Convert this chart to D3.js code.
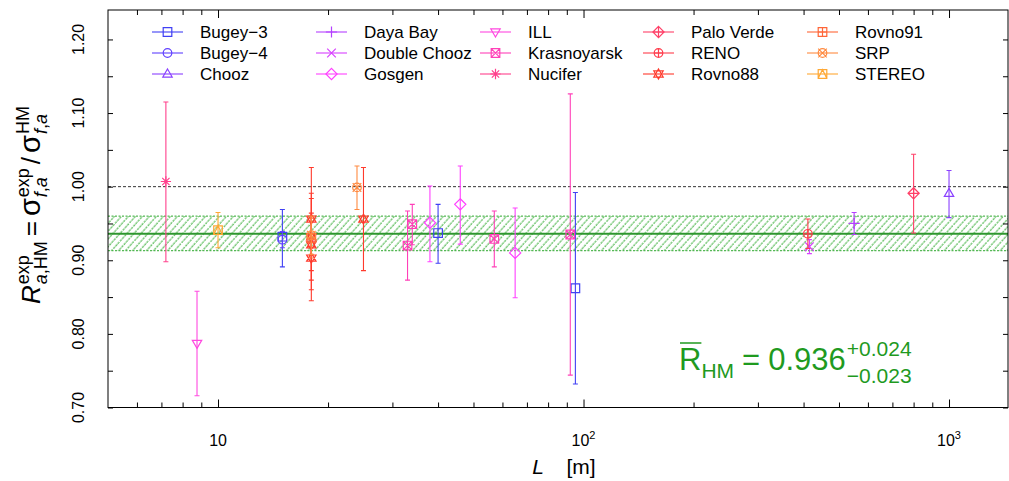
<!DOCTYPE html>
<html><head><meta charset="utf-8">
<script src="https://cdn.jsdelivr.net/npm/d3@7"></script>
<style>
body{margin:0;background:#fff}
svg{display:block}
text{font-family:"Liberation Sans",Arial,Helvetica,sans-serif}
</style>
</head><body>
<svg id="chart" width="1009" height="481"></svg>
<script>
// ---------------- data ----------------
const experiments = ["Bugey-3","Bugey-4","Chooz","Daya Bay","Double Chooz","Gosgen","ILL","Krasnoyarsk","Nucifer","Palo Verde","RENO","Rovno88","Rovno91","SRP","STEREO"];
const legendLabels = ["Bugey−3","Bugey−4","Chooz","Daya Bay","Double Chooz","Gosgen","ILL","Krasnoyarsk","Nucifer","Palo Verde","RENO","Rovno88","Rovno91","SRP","STEREO"];
const expColors = ["#4040f4","#6040ff","#8a40ff","#b440ff","#d840ff","#ff40ff","#ff48e0","#ff40b8","#ff408c","#ff4068","#ff3c4c","#ff3a2c","#ff6638","#ff8a40","#ffa834"];
const expSymbols = ["square","circle","triUp","plus","cross","diamond","triDown","squareX","asterisk","diamondPlus","circlePlus","star6","squarePlus","circleX","squareTri"];

// measurements: experiment, baseline L [m], ratio, lower, upper
const measExp = ["Bugey-3","Bugey-3","Bugey-3","Bugey-4","Chooz","Daya Bay","Double Chooz","Gosgen","Gosgen","Gosgen","ILL","Krasnoyarsk","Krasnoyarsk","Krasnoyarsk","Krasnoyarsk","Nucifer","Palo Verde","RENO","Rovno88","Rovno88","Rovno88","Rovno88","Rovno88","Rovno91","SRP","SRP","STEREO"];
const measL   = [15, 40, 95, 15, 1000, 550, 415, 38, 46, 65, 8.76, 33, 34, 57, 92, 7.2, 800, 411, 18, 18, 18, 18, 25, 18, 18, 24, 10];
const measR   = [0.932,0.937,0.862,0.928,0.991,0.950,0.9185,0.951,0.976,0.910,0.787,0.920,0.949,0.929,0.935,1.007,0.991,0.936,0.956,0.932,0.921,0.903,0.956,0.930,0.934,0.999,0.941];
const measLo  = [0.891,0.896,0.732,0.917,0.958,0.935,0.909,0.898,0.922,0.849,0.716,0.873,0.921,0.891,0.744,0.898,0.937,0.916,0.886,0.873,0.860,0.845,0.886,0.903,0.908,0.969,0.917];
const measHi  = [0.969,0.976,0.992,0.939,1.022,0.965,0.928,1.001,1.028,0.971,0.858,0.967,0.976,0.967,1.126,1.115,1.044,0.956,1.026,0.991,0.984,0.964,1.026,0.957,0.960,1.028,0.965];

const meanR = 0.936, meanPlus = 0.024, meanMinus = 0.023;
const yTickValues = [0.70,0.80,0.90,1.00,1.10,1.20];
const yMinorValues = [0.75,0.85,0.95,1.05,1.15];
const xMajorValues = [10,100,1000];
const xMajorLabels = [["10",""],["10","2"],["10","3"]];
const xMinorValues = [6,7,8,9,20,30,40,50,60,70,80,90,200,300,400,500,600,700,800,900];

// ---------------- layout ----------------
const svg = d3.select("#chart");
const L = 108, R = 1008, T = 10, B = 407.5;
const x = d3.scaleLog().domain([5, 1450]).range([L, R]);
const y = d3.scaleLinear().domain([0.70, 1.24]).range([B, T]);
const colorOf = d3.scaleOrdinal().domain(experiments).range(expColors);
const symOf = d3.scaleOrdinal().domain(experiments).range(expSymbols);
const green = "#1f9a1f";

const defs = svg.append("defs");
defs.append("clipPath").attr("id","clip").append("rect").attr("x",L).attr("y",T).attr("width",R-L).attr("height",B-T);
const pat = defs.append("pattern").attr("id","hatch").attr("patternUnits","userSpaceOnUse")
  .attr("width",5.2).attr("height",10).attr("patternTransform","rotate(42)");
pat.append("line").attr("x1",1).attr("y1",0).attr("x2",1).attr("y2",10)
  .attr("stroke","#3aae3a").attr("stroke-width",1).attr("stroke-dasharray","2.5,0.8");

const plot = svg.append("g").attr("clip-path","url(#clip)");

// band
plot.append("rect").attr("x",L).attr("width",R-L)
  .attr("y",y(meanR+meanPlus)).attr("height",y(meanR-meanMinus)-y(meanR+meanPlus))
  .attr("fill","url(#hatch)");
[meanR+meanPlus, meanR-meanMinus].forEach(v=>{
  plot.append("line").attr("x1",L).attr("x2",R).attr("y1",y(v)).attr("y2",y(v))
    .attr("stroke","#2ea82e").attr("stroke-width",1).attr("stroke-dasharray","2,1.5");
});
plot.append("line").attr("x1",L).attr("x2",R).attr("y1",y(meanR)).attr("y2",y(meanR))
  .attr("stroke","#2e962e").attr("stroke-width",2);
// reference line at 1
plot.append("line").attr("x1",L).attr("x2",R).attr("y1",y(1)).attr("y2",y(1))
  .attr("stroke","#333").attr("stroke-width",1).attr("stroke-dasharray","3,2");

// symbols
function symbolPath(type, s){
  const sq = `M${-s},${-s}H${s}V${s}H${-s}Z`;
  const cr = `M${-s},${-s}L${s},${s}M${-s},${s}L${s},${-s}`;
  const pl = (k)=>`M${-k},0H${k}M0,${-k}V${k}`;
  const t = s*1.15;
  const tu = `M0,${-t}L${t*0.95},${t*0.62}L${-t*0.95},${t*0.62}Z`;
  const td = `M0,${t}L${t*0.95},${-t*0.62}L${-t*0.95},${-t*0.62}Z`;
  const d = s*1.3;
  const dm = `M0,${-d}L${d},0L0,${d}L${-d},0Z`;
  const circ = (r)=>`M${r},0A${r},${r} 0 1,1 ${-r},0A${r},${r} 0 1,1 ${r},0Z`;
  switch(type){
    case "square": return sq;
    case "circle": return circ(s);
    case "triUp": return tu;
    case "triDown": return td;
    case "plus": return pl(s*1.3);
    case "cross": return cr;
    case "diamond": return dm;
    case "squareX": return sq+cr;
    case "asterisk": return pl(s*1.2)+`M${-s*0.85},${-s*0.85}L${s*0.85},${s*0.85}M${-s*0.85},${s*0.85}L${s*0.85},${-s*0.85}`;
    case "diamondPlus": return dm+pl(d);
    case "circlePlus": return circ(s)+pl(s);
    case "star6": return tu+td;
    case "squarePlus": return sq+pl(s);
    case "circleX": return circ(s)+cr;
    case "squareTri": return sq+`M${-s},${s}L0,${-s}L${s},${s}`;
  }
}

const meas = measExp.map((e,i)=>({e, L:measL[i], r:measR[i], lo:measLo[i], hi:measHi[i]}));
const pts = plot.selectAll("g.m").data(meas).join("g").attr("class","m");
pts.append("line").attr("x1",d=>x(d.L)).attr("x2",d=>x(d.L)).attr("y1",d=>y(d.lo)).attr("y2",d=>y(d.hi))
  .attr("stroke",d=>colorOf(d.e)).attr("stroke-width",1.1);
["lo","hi"].forEach(k=>{
  pts.append("line").attr("x1",d=>x(d.L)-2.5).attr("x2",d=>x(d.L)+2.5).attr("y1",d=>y(d[k])).attr("y2",d=>y(d[k]))
    .attr("stroke",d=>colorOf(d.e)).attr("stroke-width",1.1);
});
pts.append("path").attr("transform",d=>`translate(${x(d.L)},${y(d.r)})`)
  .attr("d",d=>symbolPath(symOf(d.e),4.3)).attr("fill","none")
  .attr("stroke",d=>colorOf(d.e)).attr("stroke-width",1.2);

// frame
svg.append("rect").attr("x",L).attr("y",T).attr("width",R-L).attr("height",B-T)
  .attr("fill","none").attr("stroke","#000").attr("stroke-width",1);

// axes (ticks inward)
function styleAxis(g){ g.select(".domain").remove(); g.selectAll(".tick line").attr("stroke","#000"); }
svg.append("g").attr("transform",`translate(0,${B})`)
  .call(d3.axisBottom(x).tickValues(xMajorValues).tickSize(-8).tickFormat(""))
  .call(styleAxis);
svg.append("g").attr("transform",`translate(0,${B})`)
  .call(d3.axisBottom(x).tickValues(xMinorValues).tickSize(-5).tickFormat(""))
  .call(styleAxis);
svg.append("g").attr("transform",`translate(0,${T})`)
  .call(d3.axisTop(x).tickValues(xMajorValues).tickSize(-8).tickFormat(""))
  .call(styleAxis);
svg.append("g").attr("transform",`translate(0,${T})`)
  .call(d3.axisTop(x).tickValues(xMinorValues).tickSize(-5).tickFormat(""))
  .call(styleAxis);
svg.append("g").attr("transform",`translate(${L},0)`)
  .call(d3.axisLeft(y).tickValues(yTickValues.concat(yMinorValues)).tickSize(-5).tickFormat(""))
  .call(styleAxis);
svg.append("g").attr("transform",`translate(${R},0)`)
  .call(d3.axisRight(y).tickValues(yTickValues.concat(yMinorValues)).tickSize(-5).tickFormat(""))
  .call(styleAxis);

// x tick labels
xMajorValues.forEach((v,i)=>{
  const t = svg.append("text").attr("x",x(v)).attr("y",446).attr("text-anchor","middle")
    .attr("font-size",16).attr("fill","#000");
  t.append("tspan").text(xMajorLabels[i][0]);
  if(xMajorLabels[i][1]) t.append("tspan").attr("dy",-7).attr("font-size",11).text(xMajorLabels[i][1]);
});
// y tick labels
yTickValues.forEach(v=>{
  svg.append("text").attr("transform",`translate(78,${y(v)}) rotate(-90)`).attr("dy","0.36em")
    .attr("text-anchor","middle").attr("font-size",16).attr("fill","#000").text(v.toFixed(2));
});

// x axis title
svg.append("text").attr("x",538).attr("y",474).attr("text-anchor","middle").attr("font-size",21)
  .attr("font-style","italic").attr("fill","#000").text("L");
svg.append("text").attr("x",581).attr("y",474).attr("text-anchor","middle").attr("font-size",21)
  .attr("fill","#000").text("[m]");

// rich text helper
function rich(g, items, color){
  let cx = 0;
  items.forEach(it=>{
    const segs = it.stack || [it];
    let w = 0;
    segs.forEach(s=>{
      const t = g.append("text").attr("x",cx).attr("y",s.dy||0).attr("font-size",s.size).attr("fill",color);
      (s.parts || [{t:s.t, it:s.it}]).forEach(p=>t.append("tspan").text(p.t).attr("font-style",p.it?"italic":null));
      const tw = t.node().getComputedTextLength();
      if(s.overline){
        g.append("line").attr("x1",cx+1).attr("x2",cx+tw).attr("y1",s.overline).attr("y2",s.overline)
          .attr("stroke",color).attr("stroke-width",1.5);
      }
      w = Math.max(w, tw);
    });
    cx += w + (it.gap||0);
  });
  return cx;
}

// y axis title
const M = 26, S = 18;
const yg = svg.append("g");
const yin = yg.append("g");
const yw = rich(yin, [
  {t:"R", size:M, it:true, gap:1},
  {stack:[{t:"exp", size:S, dy:-11},{parts:[{t:"a",it:true},{t:",HM"}], size:S, dy:7}], gap:5},
  {t:"=", size:M, gap:5},
  {t:"σ", size:M+3, gap:1},
  {stack:[{t:"exp", size:S, dy:-11},{parts:[{t:"f",it:true},{t:","},{t:"a",it:true}], size:S, dy:7}], gap:4},
  {t:"/", size:M, gap:4},
  {t:"σ", size:M+3, gap:1},
  {stack:[{t:"HM", size:S, dy:-11},{parts:[{t:"f",it:true},{t:","},{t:"a",it:true}], size:S, dy:7}]}
], "#000");
yin.attr("transform",`translate(${-yw/2},0)`);
yg.attr("transform",`translate(40,${y(0.975)}) rotate(-90)`);

// annotation
const ag = svg.append("g").attr("transform","translate(679,370)");
rich(ag, [
  {t:"R", size:31, overline:-27, gap:0},
  {t:"HM", size:21, dy:8, gap:8},
  {t:"=", size:31, gap:8},
  {t:"0.936", size:31, gap:1},
  {stack:[{t:"+0.024", size:21, dy:-14},{t:"−0.023", size:21, dy:13}]}
], green);

// legend
const legCols = [152, 316, 480, 643, 807];
const legRows = [32, 53, 74];
const leg = svg.selectAll("g.leg").data(experiments).join("g").attr("class","leg")
  .attr("transform",(d,i)=>`translate(${legCols[Math.floor(i/3)]},${legRows[i%3]})`);
leg.append("line").attr("x1",0).attr("x2",31).attr("stroke",d=>colorOf(d)).attr("stroke-width",1.1);
leg.append("path").attr("transform","translate(15.5,0)").attr("d",d=>symbolPath(symOf(d),4.3))
  .attr("fill","none").attr("stroke",d=>colorOf(d)).attr("stroke-width",1.2);
leg.append("text").attr("x",48).attr("dy","0.36em").attr("font-size",17).attr("fill","#000")
  .text((d,i)=>legendLabels[i]);
</script>
</body></html>
